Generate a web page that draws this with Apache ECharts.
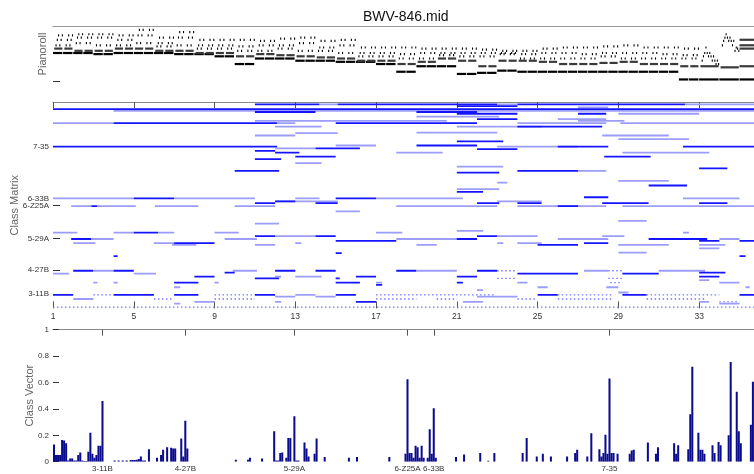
<!DOCTYPE html>
<html><head><meta charset="utf-8">
<script src="https://cdn.jsdelivr.net/npm/echarts@6/dist/echarts.min.js"></script>
<style>html,body{margin:0;padding:0;background:#fff}#c{width:754px;height:474px}</style>
</head><body><div id="c"></div>
<script>
const titleText = 'BWV-846.mid';
const FONT = 'Liberation Sans, Arial, Helvetica, sans-serif';

// ---- Pianoroll data (MIDI pitches) ----
// measures 1-32: [held bass, held 2nd voice, figure tone a, b, c]
const chords = [
 [60,64,67,72,76],[60,62,69,74,77],[59,62,67,74,77],[60,64,67,72,76],
 [60,64,69,76,81],[60,62,66,69,74],[59,62,67,74,79],[59,60,64,67,72],
 [57,60,64,67,72],[50,57,62,66,72],[55,59,62,67,71],[55,58,64,67,73],
 [53,57,62,69,74],[53,56,62,65,71],[52,55,60,67,72],[52,53,57,60,65],
 [50,53,57,60,65],[43,50,55,59,65],[48,52,55,60,64],[48,55,58,60,64],
 [41,53,57,60,64],[42,48,57,60,63],[44,53,59,60,62],[43,53,55,59,62],
 [43,52,55,60,64],[43,50,55,60,65],[43,50,55,59,65],[43,51,57,60,66],
 [43,52,55,60,67],[43,50,55,60,65],[43,50,55,59,65],[36,48,55,58,64]
];
// chord-tone index played at sixteenth positions 2..7 of every half measure
const figure = [2,3,4,2,3,4];
const m33Bass = [36,48];
const m33Run = [53,57,60,65,60,57,60,57,53,57,53,50,53,50];
const m34Bass = [36,47];
const m34Run = [67,71,74,77,74,71,74,71,67,71,62,65,64,62];
const finalChord = [36,48,64,67,72];
const pianoTick = [34.5];

// ---- Class matrix: [row (set-class index), start measure, end measure, shade 1=dark 0=light 2=dotted]
const matrixSegs = [
[347,11,14.2,1],[347,14.2,15.1,0],[347,15.1,23,1],[347,23,24,0],[347,24,32.3,1],[347,32.3,36,0],
[344,21,24,1],[342,27,28.5,0],[339,1,36,1],[336,4,36,0],
[334,11,14,1],[334,19,22,1],
[331,21,24,1],[331,27,28.4,1],[331,29,33,0],
[326,19,23.1,0],[322,22,24,1],[322,26,28.4,0],
[319,11,20.5,0],[319,27,29.3,0],
[315,1,4,0],[315,4,12.1,1],[315,12.1,13,0],[315,15,22,1],[315,24,28.4,0],[315,29.1,36,0],
[309,12,14.3,0],[309,21,23,0],[309,23,25.2,0],[309,24,28.2,1],
[299,19,23,0],[298,13,15.1,0],
[294,11,13,0],[294,28.2,31.5,0],[288,29,32.5,0],[284,21,23.3,1],
[277,19,22,1],[277,15,17,0],
[275,1,12.1,1],[275,23,27,0],[275,26,27,1],[275,27,28.5,1],[275,32.2,36,1],
[272,12,14,0],[272,14,16.2,1],[271,22,24,1],[268,11,12,1],
[265,12,13.2,1],[265,18,20.3,0],[265,29.2,33.5,0],
[258,13,15,1],[258,28.3,30.6,1],[254,11,12.3,1],[247,13,14.3,0],[241,21,23.3,0],[238,33,34.4,1],
[234,10,12.2,1],[234,24,27,1],[234,27,28.4,0],[231,21,23.1,1],
[217,29,31.5,0],[214,23,23.5,0],[209,30.5,32.4,1],[203,21,23.1,0],[198,21,22.3,1],[189,27.3,28.5,1],
[187,1,5,0],[187,5,7,1],[187,7,11,0],[187,13,14.2,0],[187,15,17,1],[187,17,21.3,0],[187,32.2,35,0],
[182,12,15.1,0],[182,12,13,1],[182,23,25.2,0],
[179,11,12,1],[179,14,15.1,1],[179,22,23.1,1],[179,24,25.2,1],[179,28.2,30.5,1],[179,33,34.4,1],
[174,1.9,2.9,0],[174,2.9,3.2,1],[174,3.2,5.1,0],[174,6.05,8.2,0],[174,10,12,0],[174,18,23,0],[174,24,28.4,0],[174,26,27,1],[174,29.2,36,0],
[165,15,16.2,0],[149,29,30.4,0],[144,11,12.2,0],[132,21,22.3,0],
[129,1,2.2,0],[129,4,5,0],[129,5,6.2,1],[129,6.2,7,0],[129,9,10.2,0],[129,17,18.3,0],[129,32.2,32.5,0],
[123,11,12,1],[123,12,14,0],[123,14,15,1],[123,22,23,1],[123,23,25,0],[123,28.2,29.3,0],
[118,1.9,2.9,1],[118,2.9,4,0],[118,9.5,11.1,0],[118,18,21.3,0],[118,21,22,1],[118,26,27,0],[118,27,28.5,0],[118,30.5,33.4,1],[118,34,35,0],
[115,15,18,1],[115,33,34,1],[115,35,36,1],
[111,2,3.1,0],[111,6,7,0],[111,7,9,1],[111,13,13.3,0],[111,23,23.3,0],[111,24,25.2,0],[111,27.3,28.5,1],
[108,6.9,8.1,0],[108,11,12,0],[108,19,20,0],[108,25,27,1],[108,29,31.5,0],[108,33,34.3,0],
[102,33,34,0],[95,29,30.4,0],[94,15,15.3,1],[89,4,4.2,1],[89,35,35.3,1],
[64,2,3,1],[64,3,4,0],[64,4,5,1],[64,9.9,11.1,0],[64,12,13,1],[64,14,15,1],[64,18,19,1],[64,19,21,0],[64,22,23,1],[64,23,24,2],[64,27.3,28.5,0],[64,28.5,29.2,2],[64,31,33.3,0],
[61,9.5,10,1],[61,33,34.3,1],
[59,1,1.8,0],[59,5,6.1,0],[59,24,27,1],[59,29.2,31,1],
[54,8,9,1],[54,16,17,1],[54,21,22,1],[54,33,34,1],[54,12,12.3,0],[54,13,14.3,0],
[51,11,12.2,1],[51,15,15.2,1],[51,23,24,2],[51,28.5,29.2,2],[48,33,33.5,0],
[44,3,3.2,0],[44,4,4.2,0],[44,7,8.2,1],[44,9,9.2,0],[44,15,16.2,1],[44,17,17.3,0],[44,21,21.3,1],[44,24,24.5,0],[44,28.6,29.2,2],[44,34,35,0],
[40,17,17.3,1],[36,7,7.3,0],[36,25,25.5,0],[36,28.4,29,0],[36,35.3,35.5,0],[31,22,22.3,0],[27,29,29.5,0],
[23,1,2,1],[23,3,4,2],[23,4,6,1],[23,7,8.2,1],[23,9,11,2],[23,11,12,1],[23,13,14,0],[23,15,16,1],[23,17,22.9,2],[23,25,26,1],[23,26,28.7,2],[23,29.2,30.4,1],[23,30.4,34,2],[23,35,36,1],
[20,12,13,0],[20,14,15,0],[20,22,24,0],
[16,2,3,0],[16,6,7,2],[16,9,11,2],[16,17,19,2],[16,20,21,2],[16,24,25,2],[16,26,28.7,2],[16,30.4,33.3,2],
[11,8,9,0],[11,12,12.3,0],[11,16,17,1],[11,21.3,22.3,0],[11,33,33.5,0],[11,34,35,2],
[8,7,7.3,0],[8,34,35,0],
[2,1,36,2]
];
const matrixLabels = ['3-11B','4-27B','5-29A','6-Z25A','6-33B','7-35'];
const matrixLabelRows = [24,65,119,175,187,275];
const measureTicks = [1,5,9,13,17,21,25,29,33];

// ---- Class vector: [set-class index, value]
const classVector = [
[0,0.13],[1,0.05],[2,0.05],[3,0.05],[4,0.165],[5,0.16],[6,0.14],[7,0.01],[8,0.025],[9,0.025],[10,0.01],[11,0.01],[12,0.05],[13,0.07],[14,0.01],[15,0.005],[16,0.005],[17,0.075],[18,0.22],[19,0.06],[20,0.03],[21,0.05],[22,0.12],[23,0.12],[24,0.46],
[30,0.01],[32,0.01],[34,0.01],[36,0.01],[38,0.012],[39,0.012],[40,0.012],[41,0.015],[42,0.02],[43,0.04],[44,0.01],[45,0.01],[47,0.095],
[51,0.03],[53,0.05],[54,0.09],[56,0.11],[58,0.105],[59,0.1],[60,0.1],[63,0.175],[64,0.04],[65,0.31],[66,0.1],
[90,0.015],[96,0.015],[97,0.03],[103,0.025],[109,0.23],[110,0.01],[111,0.01],[112,0.065],[113,0.07],[115,0.03],[116,0.18],[117,0.18],[119,0.345],[120,0.01],[121,0.01],[124,0.145],[125,0.1],[126,0.04],[129,0.06],[130,0.175],[134,0.035],[146,0.03],[150,0.035],
[166,0.035],[174,0.06],[175,0.625],[176,0.065],[177,0.065],[178,0.03],[179,0.12],[180,0.11],[181,0.03],[182,0.12],[183,0.03],[185,0.03],[186,0.245],[187,0.06],[188,0.405],[189,0.03],
[199,0.035],[203,0.055],[211,0.065],[215,0.008],[218,0.065],[232,0.065],[234,0.18],[239,0.04],[242,0.06],[246,0.04],[254,0.04],[258,0.065],[259,0.09],[264,0.04],[266,0.215],[270,0.095],[271,0.04],[272,0.065],[273,0.205],[274,0.06],[275,0.63],[276,0.065],[277,0.065],[279,0.06],[285,0.06],[286,0.085],[287,0.09],[294,0.145],[298,0.06],[299,0.11],[307,0.14],[308,0.06],[309,0.125],[314,0.095],[315,0.36],[316,0.72],[319,0.22],[320,0.09],[321,0.09],[322,0.06],[326,0.125],[327,0.065],[329,0.15],[330,0.125],[334,0.2],[335,0.755],[338,0.53],[339,0.23],[340,0.14],[345,0.28],[346,0.605]
];
const vectorLabels = ['3-11B','4-27B','5-29A','6-Z25A','6-33B','7-35'];
const vectorLabelIdx = [24,65,119,175,188,275];
const classCount = 351;

// ---- build note table ----
const notes = []; // [start, end, pitch, kind]
const S = 1/16;
chords.forEach((c, m) => {
  for (let h = 0; h < 2; h++) {
    const t0 = m + 1 + h * 0.5;
    notes.push([t0, t0 + 0.5, c[0], 0]);
    notes.push([t0 + S, t0 + 0.5, c[1], 1]);
    figure.forEach((k, j) => notes.push([t0 + (2 + j) * S, t0 + (3 + j) * S, c[k], 2]));
  }
});
[[33, m33Bass, m33Run], [34, m34Bass, m34Run]].forEach(([t0, b, run]) => {
  notes.push([t0, t0 + 1, b[0], 0]);
  notes.push([t0 + S, t0 + 1, b[1], 1]);
  run.forEach((p, j) => notes.push([t0 + (2 + j) * S, t0 + (3 + j) * S, p, 2]));
});
finalChord.forEach((p, i) => notes.push([35, 36, p, i === 0 ? 0 : 1]));

const tickLabelStyle = {fontFamily: FONT, fontSize: 8, color: '#333'};
const measureLabelStyle = {fontFamily: FONT, fontSize: 8.5, color: '#333'};
const nameStyle = {fontFamily: FONT, fontSize: 11, color: '#666'};
const gridBase = {outerBoundsMode: 'none', containLabel: false, show: false};

const option = {
  animation: false,
  backgroundColor: '#fff',
  title: {text: titleText, left: 358, top: 5, textStyle: {fontFamily: FONT, fontSize: 14, fontWeight: 'normal', color: '#111'}},
  grid: [
    Object.assign({left: 53, top: 26, width: 706.7, height: 70}, gridBase),
    Object.assign({left: 53, top: 102, width: 706.7, height: 206.4}, gridBase),
    Object.assign({left: 53, top: 329.7, width: 709, height: 132}, gridBase)
  ],
  xAxis: [
    {gridIndex: 0, type: 'value', min: 1, max: 36, position: 'top',
     axisLine: {lineStyle: {color: '#999', width: 1.2}}, axisTick: {show: false}, axisLabel: {show: false}, splitLine: {show: false}},
    {gridIndex: 1, type: 'value', min: 1, max: 36, position: 'bottom',
     axisLine: {show: false},
     axisTick: {show: true, inside: true, length: 7, customValues: measureTicks, lineStyle: {color: '#555'}},
     axisLabel: Object.assign({show: true, margin: 4, customValues: measureTicks}, measureLabelStyle), splitLine: {show: false}},
    {gridIndex: 1, type: 'value', min: 1, max: 36, position: 'top',
     axisLine: {show: true, lineStyle: {color: '#888', width: 1.2}},
     axisTick: {show: true, inside: true, length: 6, customValues: measureTicks, lineStyle: {color: '#555'}},
     axisLabel: {show: false}, splitLine: {show: false}},
    {gridIndex: 2, type: 'value', min: 0, max: classCount, position: 'bottom',
     axisLine: {show: false}, axisTick: {show: false},
     axisLabel: Object.assign({show: true, margin: 3, customValues: vectorLabelIdx.map(i => i + 0.5),
       formatter: v => vectorLabels[vectorLabelIdx.indexOf(Math.round(v - 0.5))] || ''}, tickLabelStyle),
     splitLine: {show: false}},
    {gridIndex: 2, type: 'value', min: 0, max: classCount, position: 'top',
     axisLine: {show: true, lineStyle: {color: '#888', width: 1.2}},
     axisTick: {show: true, inside: true, length: 6, customValues: vectorLabelIdx.map(i => i + 0.5), lineStyle: {color: '#555'}},
     axisLabel: {show: false}, splitLine: {show: false}}
  ],
  yAxis: [
    {gridIndex: 0, type: 'value', min: 21, max: 84.5,
     name: 'Pianoroll', nameLocation: 'middle', nameGap: 5, nameRotate: 90, nameMoveOverlap: false,
     nameTextStyle: Object.assign({padding: [0, 0, 0, 14]}, nameStyle),
     axisLine: {show: false}, axisTick: {show: true, inside: true, length: 7, customValues: pianoTick, lineStyle: {color: '#333'}},
     axisLabel: {show: false}, splitLine: {show: false}},
    {gridIndex: 1, type: 'value', min: 0, max: 351,
     name: 'Class Matrix', nameLocation: 'middle', nameGap: 33, nameRotate: 90, nameMoveOverlap: false, nameTextStyle: nameStyle,
     axisLine: {show: false},
     axisTick: {show: true, inside: true, length: 7, customValues: matrixLabelRows, lineStyle: {color: '#333'}},
     axisLabel: Object.assign({show: true, margin: 4, customValues: matrixLabelRows,
       formatter: v => matrixLabels[matrixLabelRows.indexOf(v)] || ''}, tickLabelStyle),
     splitLine: {show: false}},
    {gridIndex: 2, type: 'value', min: 0, max: 1, interval: 0.2,
     name: 'Class Vector', nameLocation: 'middle', nameGap: 18, nameRotate: 90, nameMoveOverlap: false, nameTextStyle: nameStyle,
     axisLine: {show: false},
     axisTick: {show: true, inside: true, length: 6, lineStyle: {color: '#333'}},
     axisLabel: Object.assign({show: true, margin: 4, formatter: v => String(+v.toFixed(1))}, tickLabelStyle),
     splitLine: {show: false}}
  ],
  series: [
    {type: 'custom', xAxisIndex: 0, yAxisIndex: 0, clip: true, data: notes,
     encode: {x: [0, 1], y: 2},
     renderItem: (params, api) => {
       const a = api.coord([api.value(0), api.value(2)]);
       const b = api.coord([api.value(1), api.value(2)]);
       const k = api.value(3);
       const w = k === 2 ? Math.max(1.1, (b[0] - a[0]) * 0.85) : Math.max(1, b[0] - a[0] - 0.7);
       return {type: 'rect', shape: {x: a[0], y: a[1] - 1.1, width: w, height: 2.2},
               style: {fill: k === 1 ? '#3a3a3a' : '#000'}};
     }},
    {type: 'custom', xAxisIndex: 1, yAxisIndex: 1, clip: true, data: matrixSegs,
     encode: {x: [1, 2], y: 0},
     renderItem: (params, api) => {
       const row = api.value(0), k = api.value(3);
       const a = api.coord([api.value(1), row]);
       const b = api.coord([api.value(2), row]);
       if (k === 2) {
         return {type: 'line', shape: {x1: a[0], y1: a[1], x2: b[0], y2: b[1]},
                 style: {stroke: '#7676ff', lineWidth: 1.3, lineDash: [1.5, 2.5]}};
       }
       return {type: 'rect', shape: {x: a[0], y: a[1] - 0.9, width: b[0] - a[0], height: 1.8},
               style: {fill: k === 1 ? '#1414ff' : '#9c9cfa'}};
     }},
    {type: 'custom', xAxisIndex: 3, yAxisIndex: 2, clip: true, data: classVector,
     encode: {x: 0, y: 1},
     renderItem: (params, api) => {
       const i = api.value(0), v = api.value(1);
       const a = api.coord([i, v]);
       const b = api.coord([i + 1, 0]);
       return {type: 'rect', shape: {x: a[0], y: a[1], width: b[0] - a[0], height: b[1] - a[1]},
               style: {fill: '#0b0b8e'}};
     }}
  ]
};
const chart = echarts.init(document.getElementById('c'), null, {renderer: 'canvas'});
chart.setOption(option);
</script></body></html>
